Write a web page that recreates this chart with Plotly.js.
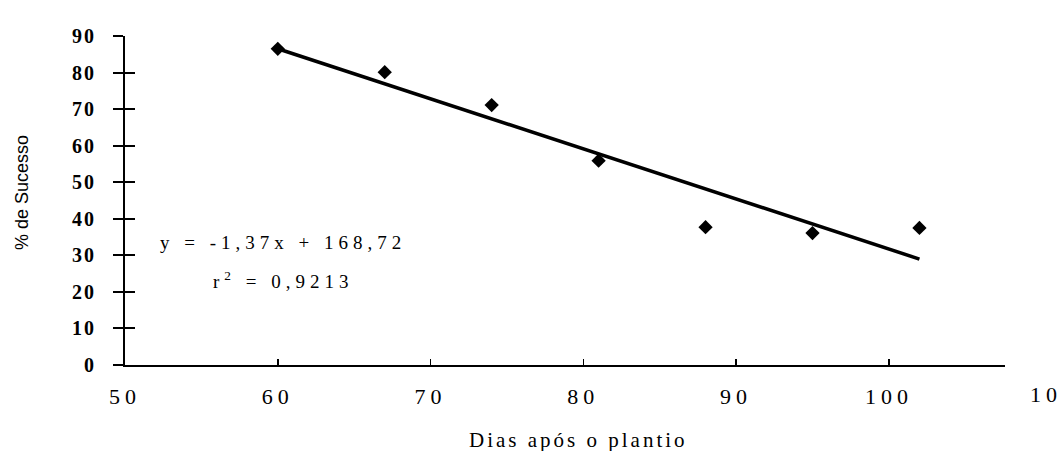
<!DOCTYPE html>
<html>
<head>
<meta charset="utf-8">
<script src="https://cdn.plot.ly/plotly-3.0.1.min.js"></script>
<style>
  html, body { margin: 0; padding: 0; background: #fff; }
  #chart { width: 1063px; height: 451px; }
  .xtick text { letter-spacing: 5px; }
  .ytick text { letter-spacing: 2px; }
</style>
</head>
<body>
<div id="chart"></div>
<script>
// ---- data ----
const days = [60, 67, 74, 81, 88, 95, 102];
const success = [86.5, 80.1, 71.1, 55.9, 37.7, 36.1, 37.5];
const slope = -1.37;
const intercept = 168.72;
const trendX = [60, 102];
const xTickVals = [50, 60, 70, 80, 90, 100];
const xTickText = ['50', '60', '70', '80', '90', '100'];
const extraXTickText = '10';
const yTickVals = [0, 10, 20, 30, 40, 50, 60, 70, 80, 90];
const yTickText = ['0', '10', '20', '30', '40', '50', '60', '70', '80', '90'];
const equationText = 'y = -1,37x + 168,72';
const r2Text = 'r<sup>2</sup> = 0,9213';
const xTitle = 'Dias após o plantio';
const yTitle = '% de Sucesso';

const trendY = trendX.map(x => slope * x + intercept);

const traces = [
  {
    x: trendX, y: trendY, type: 'scatter', mode: 'lines',
    line: { color: '#000', width: 3.5 },
    hoverinfo: 'skip', showlegend: false, xaxis: 'x', yaxis: 'y'
  },
  {
    x: days, y: success, type: 'scatter', mode: 'markers',
    marker: { symbol: 'diamond', size: 11, color: '#000' },
    showlegend: false, xaxis: 'x', yaxis: 'y2', cliponaxis: false
  }
];

const serif = '"Liberation Serif", "DejaVu Serif", serif';

const layout = {
  width: 1063, height: 451,
  margin: { l: 125, r: 58, t: 36, b: 86 },
  paper_bgcolor: '#fff', plot_bgcolor: 'rgba(0,0,0,0)',
  showlegend: false,
  font: { family: serif },
  xaxis: {
    range: [50, 107.6], showgrid: false, zeroline: false,
    showline: true, linecolor: '#000', linewidth: 2,
    tickmode: 'array', tickvals: xTickVals, ticktext: xTickText,
    ticks: 'inside', ticklen: 6, tickwidth: 1.5, tickcolor: '#000',
    tickfont: { family: serif, size: 22, color: '#000' },
    ticklabelstandoff: 11
  },
  yaxis: {
    range: [0, 90], showgrid: false, zeroline: false,
    showline: true, linecolor: '#000', linewidth: 2,
    tickmode: 'array', tickvals: yTickVals, ticktext: yTickText,
    ticks: 'outside', ticklen: 10, tickwidth: 2, tickcolor: '#000',
    tickfont: { family: serif, size: 20, color: '#000', weight: 'bold' },
    ticklabelstandoff: 13
  },
  yaxis2: {
    range: [0, 90], overlaying: 'y', side: 'left', anchor: 'x',
    showgrid: false, zeroline: false, showline: false,
    tickmode: 'array', tickvals: yTickVals,
    ticks: 'inside', ticklen: 10, tickwidth: 2, tickcolor: '#000',
    showticklabels: false
  },
  annotations: [
    {
      xref: 'paper', yref: 'paper', x: 1.047, y: -0.09,
      text: '<span style="letter-spacing:5px">' + extraXTickText + '</span>',
      showarrow: false, xanchor: 'center', yanchor: 'middle',
      font: { family: serif, size: 22, color: '#000' }
    },
    {
      xref: 'paper', yref: 'paper', x: 0.515, y: -0.228,
      text: '<span style="letter-spacing:3px">' + xTitle + '</span>',
      showarrow: false, xanchor: 'center', yanchor: 'middle',
      font: { family: serif, size: 21, color: '#000' }
    },
    {
      xref: 'paper', yref: 'paper', x: -0.117, y: 0.523,
      text: yTitle, textangle: -90,
      showarrow: false, xanchor: 'center', yanchor: 'middle',
      font: { family: '"Liberation Sans", Arial, sans-serif', size: 18, color: '#000' }
    },
    {
      xref: 'paper', yref: 'paper', x: 0.18, y: 0.371,
      text: '<span style="letter-spacing:5px">' + equationText + '</span>',
      showarrow: false, xanchor: 'center', yanchor: 'middle',
      font: { family: serif, size: 19, color: '#000' }
    },
    {
      xref: 'paper', yref: 'paper', x: 0.18, y: 0.258,
      text: '<span style="letter-spacing:5px">' + r2Text + '</span>',
      showarrow: false, xanchor: 'center', yanchor: 'middle',
      font: { family: serif, size: 19, color: '#000' }
    }
  ]
};

Plotly.newPlot('chart', traces, layout, { displayModeBar: false, staticPlot: true });
</script>
</body>
</html>
